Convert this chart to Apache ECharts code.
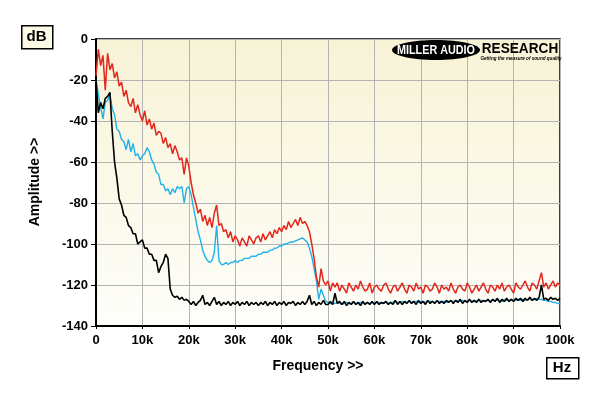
<!DOCTYPE html>
<html>
<head>
<meta charset="utf-8">
<script src="https://cdn.jsdelivr.net/npm/echarts@6/dist/echarts.min.js"></script>
<style>
html,body{margin:0;padding:0;background:#ffffff;}
#chart{width:600px;height:396px;}
</style>
</head>
<body>
<div id="chart"></div>
<script>
// Frequency sample grid (Hz), 0 .. 100 kHz in 0.5 kHz steps
const freqHz = Array.from({length: 201}, (_, i) => i * 500);

// Tick labels
const xTickLabels = ['0','10k','20k','30k','40k','50k','60k','70k','80k','90k','100k'];
const yTickLabels = ['-140','-120','-100','-80','-60','-40','-20','0'];

// Red trace (dB)
const redTrace = [
 -18,-5,-13,-8,-25,-7,-15,-12,-19,-16,
 -23,-21,-28,-25,-31,-33,-29,-36,-32,-37,
 -40,-35,-42,-39,-44,-41,-47,-45,-46,-51,
 -48,-53,-51,-56,-52,-55,-59,-58,-66,-58,
 -62,-70,-76,-80,-85,-83,-89,-86,-91,-87,
 -92,-85,-81,-91,-90,-94,-93,-97,-94,-99,
 -96,-98,-101,-97,-99,-101,-96,-98,-100,-97,
 -96,-99,-95,-98,-96,-94,-97,-93,-95,-92,
 -94,-91,-93,-89,-92,-90,-88,-91,-87,-90,
 -89,-91,-94,-100,-107,-116,-121,-112,-118,-120,
 -118,-123,-119,
 -121,-119,-123,-120,-122,-124,-119,-121,-123,-120,
 -122,-118,-121,-123,-122,-119,-124,-121,-120,-122,
 -123,-120,-119,-122,-124,-121,-120,-123,-121,-119,
 -122,-124,-120,-121,-123,-119,-122,-121,-124,-120,
 -121,-123,-122,-119,-121,-124,-120,-122,-121,-123,
 -119,-122,-124,-121,-120,-122,-123,-119,-121,-124,
 -122,-120,-123,-121,-119,-122,-124,-120,-121,-123,
 -120,-122,-119,-123,-121,-120,-122,-124,-119,-121,
 -122,-120,-118,-121,-123,-119,-120,-122,-118,-114,
 -121,-119,-122,-120,-118,-121,-119,-120
];

// Cyan trace (dB)
const cyanTrace = [
 -20,-27,-33,-39,-31,-30,-27,-34,-37,-44,
 -45,-49,-50,-54,-49,-55,-51,-57,-56,-59,
 -57,-56,-53,-55,-59,-61,-65,-66,-71,-71,
 -74,-73,-76,-73,-75,-72,-73,-72,-80,-73,
 -72,-76,-82,-88,-94,-98,-103,-106,-108,-109,
 -108,-104,-91,-108,-110,-110,-109,-110,-109,-109,
 -108,-109,-108,-108,-107,-107,-107,-106,-106,-106,
 -105,-105,-104,-104,-104,-103,-103,-102,-102,-101,
 -101,-100,-100,-99.5,-99,-99,-98.5,-98,-97.5,-97,
 -98,-99,-102,-106,-112,-118,-127,-122,-125,-128,
 -128.5,-129,-129,
 -129,-128.5,-129,-129.5,-129,-128.5,-129,-129,-128.5,-129,
 -129,-128.5,-129,-129,-128.5,-129,-128.5,-129,-128.5,-128.5,
 -129,-128.5,-128.5,-129,-128.5,-128.5,-128,-128.5,-128.5,-128,
 -128.5,-128.5,-128,-128.5,-128,-128,-128.5,-128,-128,-128.5,
 -128,-128,-128,-128.5,-128,-128,-128,-128,-128.5,-128,
 -128,-128,-127.5,-128,-128,-127.5,-128,-128,-127.5,-128,
 -127.5,-128,-127.5,-127.5,-128,-127.5,-127.5,-128,-127.5,-127.5,
 -127.5,-127.5,-128,-127.5,-127.5,-127.5,-127,-127.5,-127.5,-127,
 -127.5,-127,-127.5,-127,-127,-127.5,-127,-126.5,-127,-127,
 -127.5,-127.5,-128,-128,-128.5,-128.5,-129,-129
];

// Black trace (dB)
const blackTrace = [
 -20,-36,-31,-34,-29,-28,-26,-45,-60,-68,
 -78,-81,-86,-87,-91,-92,-95,-95,-100,-99,
 -98,-102,-102,-105,-105,-108,-108,-114,-111,-109,
 -105,-107,-122,-125,-126,-125.5,-127,-126,-127.5,-127,
 -128,-129.5,-128,-130,-128.5,-127.5,-125,-129.5,-128.5,-130,
 -128,-126,-129.5,-128,-130,-128.5,-129.5,-128,-130,-128.5,
 -129.5,-128,-130,-128.5,-129.5,-128,-130,-128.5,-129.5,-128.5,
 -130,-128.5,-129.5,-128,-130,-128.5,-129.5,-128,-130,-128.5,
 -129.5,-128,-130,-128.5,-129,-128,-130,-128.5,-129.5,-128,
 -129.5,-128,-125,-129.5,-128,-130,-128.5,-129.5,-127.5,-129.5,
 -129.5,-128,-129.5,-124,-129,-128,-129.5,-128,-130,-128.5,
 -129.5,-128,-129.5,-128.5,-130,-128,-129.5,-128.5,-129.5,-128,
 -129.5,-128,-129.5,-128.5,-129,-128,-129.5,-128.5,-129.5,-127.5,
 -129.5,-128,-129.5,-128,-129,-127.5,-129,-128,-129.5,-127.5,
 -129,-128,-129.5,-127.5,-129,-128,-129,-127.5,-129,-128,
 -129,-127.5,-128.5,-127.5,-129,-127.5,-128.5,-127,-129,-127.5,
 -128.5,-127,-128.5,-127.5,-128.5,-127,-128.5,-127.5,-128,-127,
 -128.5,-127,-128,-126.5,-128.5,-127,-128,-126.5,-128,-127,
 -128,-126.5,-127.5,-126.5,-128,-126.5,-127.5,-126,-127.5,-126.5,
 -127.5,-126,-120,-127,-126.5,-127.5,-126,-127,-126.5,-127.5,
 -126.5
];

const FONT = '"Liberation Sans", Arial, sans-serif';

function pairs(arr){ return freqHz.map((f, i) => [f, arr[i]]); }

const chart = echarts.init(document.getElementById('chart'), null, {renderer: 'canvas'});

const option = {
  animation: false,
  backgroundColor: '#ffffff',
  grid: {
    left: 96, right: 40, top: 39, bottom: 70,
    show: true,
    borderColor: '#000000',
    borderWidth: 1.5,
    backgroundColor: new echarts.graphic.LinearGradient(0, 0, 0, 1, [
      {offset: 0, color: '#f8f3d6'},
      {offset: 1, color: '#fefefa'}
    ])
  },
  xAxis: {
    type: 'value', min: 0, max: 100000, interval: 10000,
    axisLine: {show: true, onZero: false, lineStyle: {color: '#000', width: 2}},
    axisTick: {show: true, length: 3, lineStyle: {color: '#000'}},
    axisLabel: {
      color: '#000', fontWeight: 'bold', fontSize: 13, fontFamily: FONT, margin: 8,
      formatter: v => xTickLabels[Math.round(v / 10000)]
    },
    splitLine: {show: true, lineStyle: {color: '#b4b4b4', width: 1}}
  },
  yAxis: {
    type: 'value', min: -140, max: 0, interval: 20,
    axisLine: {show: true, onZero: false, lineStyle: {color: '#000', width: 2}},
    axisTick: {show: true, length: 5, lineStyle: {color: '#000'}},
    axisLabel: {
      color: '#000', fontWeight: 'bold', fontSize: 13, fontFamily: FONT, margin: 8,
      formatter: v => yTickLabels[Math.round((v + 140) / 20)]
    },
    splitLine: {show: true, lineStyle: {color: '#b4b4b4', width: 1}}
  },
  series: [
    {name: 'cyan', type: 'line', data: pairs(cyanTrace), showSymbol: false,
     lineStyle: {color: '#1fb2e8', width: 1.4}, z: 2},
    {name: 'black', type: 'line', data: pairs(blackTrace), showSymbol: false,
     lineStyle: {color: '#000000', width: 1.6}, z: 3},
    {name: 'red', type: 'line', data: pairs(redTrace), showSymbol: false,
     lineStyle: {color: '#e3261c', width: 1.5}, z: 4}
  ],
  graphic: [
    // dB box
    {type: 'rect', left: 21, top: 25, shape: {width: 31, height: 23},
     style: {fill: '#fcf9e4', stroke: '#000', lineWidth: 1.5}, z: 10},
    {type: 'text', x: 36.5, y: 37, style: {text: 'dB', font: 'bold 15px ' + FONT, fill: '#000',
     textAlign: 'center', textVerticalAlign: 'middle'}, z: 11},
    // Hz box
    {type: 'rect', left: 546, top: 357, shape: {width: 32, height: 21},
     style: {fill: '#ffffff', stroke: '#000', lineWidth: 1.5}, z: 10},
    {type: 'text', x: 562, y: 368, style: {text: 'Hz', font: 'bold 15px ' + FONT, fill: '#000',
     textAlign: 'center', textVerticalAlign: 'middle'}, z: 11},
    // axis titles
    {type: 'text', x: 318, y: 366, style: {text: 'Frequency >>', font: 'bold 14px ' + FONT, fill: '#000',
     textAlign: 'center', textVerticalAlign: 'middle'}, z: 11},
    {type: 'text', x: 35, y: 182, rotation: Math.PI / 2, style: {text: 'Amplitude >>', font: 'bold 14px ' + FONT, fill: '#000',
     textAlign: 'center', textVerticalAlign: 'middle'}, z: 11},
    // logo
    {type: 'ellipse', shape: {cx: 436, cy: 50, rx: 44, ry: 10}, style: {fill: '#000'}, z: 10},
    {type: 'text', x: 436, y: 50.5, scaleX: 0.9, style: {text: 'MILLER AUDIO', font: '900 12px ' + FONT, fill: '#ffffff',
     textAlign: 'center', textVerticalAlign: 'middle'}, z: 11},
    {type: 'text', x: 520, y: 49, scaleX: 1.05, scaleY: 1.1, style: {text: 'RESEARCH', font: '900 13px ' + FONT, fill: '#000',
     textAlign: 'center', textVerticalAlign: 'middle'}, z: 11},
    {type: 'text', x: 521, y: 58.5, style: {text: 'Getting the measure of sound quality', font: 'italic bold 4.6px ' + FONT, fill: '#000',
     textAlign: 'center', textVerticalAlign: 'middle'}, z: 11}
  ]
};
chart.setOption(option);
</script>
</body>
</html>
